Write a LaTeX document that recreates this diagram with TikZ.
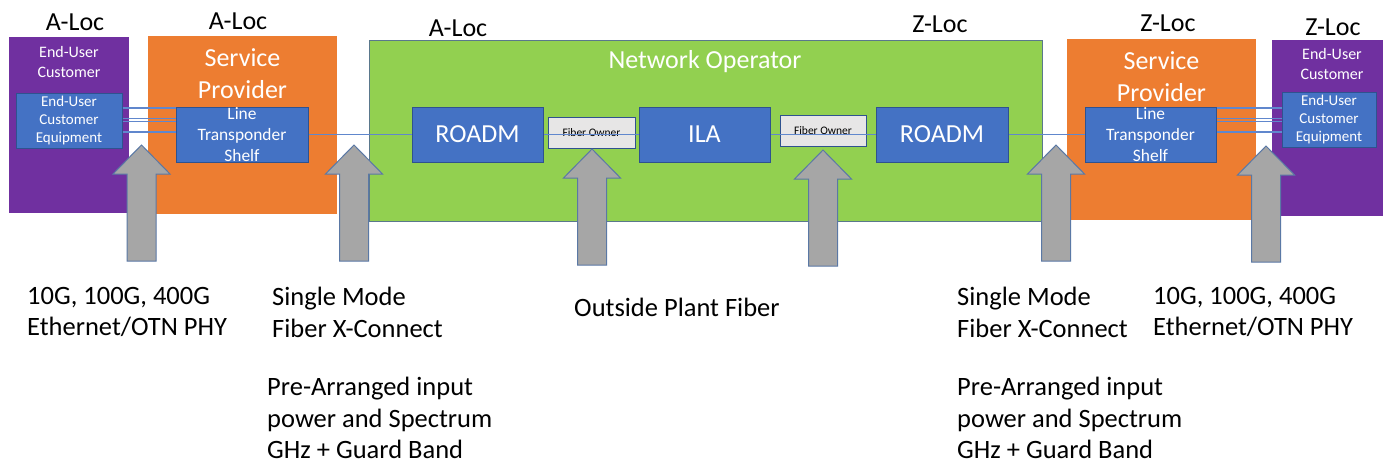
\documentclass[tikz,border=0pt]{standalone}
\usepackage{fontspec}
\setmainfont{Carlito}
\definecolor{eupurple}{RGB}{112,48,160}
\definecolor{sporange}{RGB}{237,125,49}
\definecolor{nogreen}{RGB}{146,208,80}
\definecolor{nogreenedge}{RGB}{90,120,140}
\definecolor{boxblue}{RGB}{68,114,196}
\definecolor{boxedge}{RGB}{47,82,143}
\definecolor{fogray}{RGB}{231,230,230}
\definecolor{arrgray}{RGB}{166,166,166}
\definecolor{arredge}{RGB}{90,120,165}
\newcommand{\fsz}[2]{\fontsize{#1}{#2}\selectfont}
\tikzset{fiberarrow/.pic={
  \draw[fill=arrgray, draw=arredge, line width=1pt, line join=miter]
    (0,0) -- (28.5,-29) -- (14.5,-29) -- (14.5,-116) -- (-14.5,-116)
    -- (-14.5,-29) -- (-28.5,-29) -- cycle;}}
\begin{document}
\begin{tikzpicture}[x=1pt,y=1pt]
\tikzstyle{every node}+=[inner sep=0pt]
\tikzstyle{area}=[rectangle, anchor=center]
\tikzstyle{unit}=[rectangle, fill=boxblue, draw=boxedge, line width=1pt, text=white, align=center]
\tikzstyle{owner}=[rectangle, fill=fogray, draw=boxedge, line width=0.8pt, font=\fsz{11.5}{13}]
\tikzstyle{fiber}=[draw=boxblue!85, line width=1.2pt]
\tikzstyle{loc}=[font=\fsz{26}{30}]
\tikzstyle{head}=[text=white, align=center]
\tikzstyle{note}=[anchor=north west, align=left, font=\fsz{26.5}{31.5}]
\useasboundingbox (0,0) rectangle (1383,-466);
\fill[white] (0,0) rectangle (1383,-466);
\node[loc] (locA1) at (75,-22) {A-Loc};
\node[loc] (locA2) at (238,-21) {A-Loc};
\node[loc] (locA3) at (458,-28) {A-Loc};
\node[loc] (locZ1) at (940,-24) {Z-Loc};
\node[loc] (locZ2) at (1168,-23) {Z-Loc};
\node[loc] (locZ3) at (1333,-27) {Z-Loc};
\node[area, fill=eupurple, minimum width=120pt, minimum height=176pt] (custA) at (69,-125) {};
\node[head, font=\fsz{16}{20}] (custAtxt) at (69,-62) {End-User\\Customer};
\node[unit, minimum width=106pt, minimum height=55pt, font=\fsz{15}{18}] (eqA) at (69,-120.5) {End-User\\Customer\\Equipment};
\node[area, fill=sporange, minimum width=189pt, minimum height=178pt] (provA) at (242.5,-125) {};
\node[head, font=\fsz{26}{32}] (provAtxt) at (242.5,-74) {Service\\Provider};
\node[unit, minimum width=132pt, minimum height=55pt] (ltsA) at (242,-134.5) {};
\node[head, font=\fsz{17.4}{21}] (ltsAtxt) at (ltsA) {Line\\Transponder\\Shelf};
\node[area, fill=nogreen, draw=nogreenedge, line width=1pt, minimum width=673pt, minimum height=181pt] (netop) at (705.5,-130.5) {};
\node[head, font=\fsz{26}{30}] (netoptxt) at (705,-62) {Network Operator};
\node[unit, minimum width=131pt, minimum height=55pt, font=\fsz{26}{30}] (roadmA) at (477.5,-134.5) {ROADM};
\node[owner, minimum width=87pt, minimum height=31pt] (ownA) at (591.5,-132.5) {Fiber Owner};
\node[unit, minimum width=131pt, minimum height=55pt, font=\fsz{26}{30}] (ila) at (704.5,-134.5) {ILA};
\node[owner, minimum width=86pt, minimum height=31pt] (ownZ) at (823,-130.5) {Fiber Owner};
\node[unit, minimum width=132pt, minimum height=55pt, font=\fsz{26}{30}] (roadmZ) at (942,-134.5) {ROADM};
\node[area, fill=sporange, minimum width=189pt, minimum height=181pt] (provZ) at (1161.5,-129.5) {};
\node[head, font=\fsz{26}{32}] (provZtxt) at (1161.5,-77) {Service\\Provider};
\node[unit, minimum width=131pt, minimum height=55pt] (ltsZ) at (1150.5,-134.5) {};
\node[head, font=\fsz{17.4}{21}] (ltsZtxt) at (ltsZ) {Line\\Transponder\\Shelf};
\node[area, fill=eupurple, minimum width=120pt, minimum height=176pt] (custZ) at (1332,-128) {};
\node[head, font=\fsz{16}{20}] (custZtxt) at (1332,-64) {End-User\\Customer};
\node[unit, minimum width=94pt, minimum height=55pt, font=\fsz{15}{18}] (eqZ) at (1329,-119.5) {End-User\\Customer\\Equipment};
\draw[fiber] (eqA.east |- 0,-108) -- (ltsA.west |- 0,-108);
\draw[fiber] (eqA.east |- 0,-118.5) -- (ltsA.west |- 0,-118.5);
\draw[fiber] (eqA.east |- 0,-121.5) -- (ltsA.west |- 0,-121.5);
\draw[fiber] (eqA.east |- 0,-132) -- (ltsA.west |- 0,-132);
\draw[fiber] (ltsA.east) -- (roadmA.west);
\draw[fiber] (roadmA.east) -- (ila.west);
\draw[fiber] (ila.east) -- (roadmZ.west);
\draw[fiber] (roadmZ.east) -- (ltsZ.west);
\draw[fiber] (ltsZ.east |- 0,-108) -- (eqZ.west |- 0,-108);
\draw[fiber] (ltsZ.east |- 0,-118.5) -- (eqZ.west |- 0,-118.5);
\draw[fiber] (ltsZ.east |- 0,-121.5) -- (eqZ.west |- 0,-121.5);
\draw[fiber] (ltsZ.east |- 0,-132) -- (eqZ.west |- 0,-132);
\pic at (141.5,-145) {fiberarrow};
\pic at (354,-145) {fiberarrow};
\pic at (592,-149) {fiberarrow};
\pic at (823,-150) {fiberarrow};
\pic at (1056,-145) {fiberarrow};
\pic at (1266,-146) {fiberarrow};
\node[note] (phyA) at (27,-287) {10G, 100G, 400G\\Ethernet/OTN PHY};
\node[note] (xconA) at (272,-287) {Single Mode\\Fiber X-Connect};
\node[note] (specA) at (267,-377) {Pre-Arranged input\\power and Spectrum\\GHz + Guard Band};
\node[note] (osp) at (574,-298) {Outside Plant Fiber};
\node[note] (xconZ) at (957,-287) {Single Mode\\Fiber X-Connect};
\node[note] (phyZ) at (1153,-287) {10G, 100G, 400G\\Ethernet/OTN PHY};
\node[note] (specZ) at (957,-377) {Pre-Arranged input\\power and Spectrum\\GHz + Guard Band};
\end{tikzpicture}
\end{document}
